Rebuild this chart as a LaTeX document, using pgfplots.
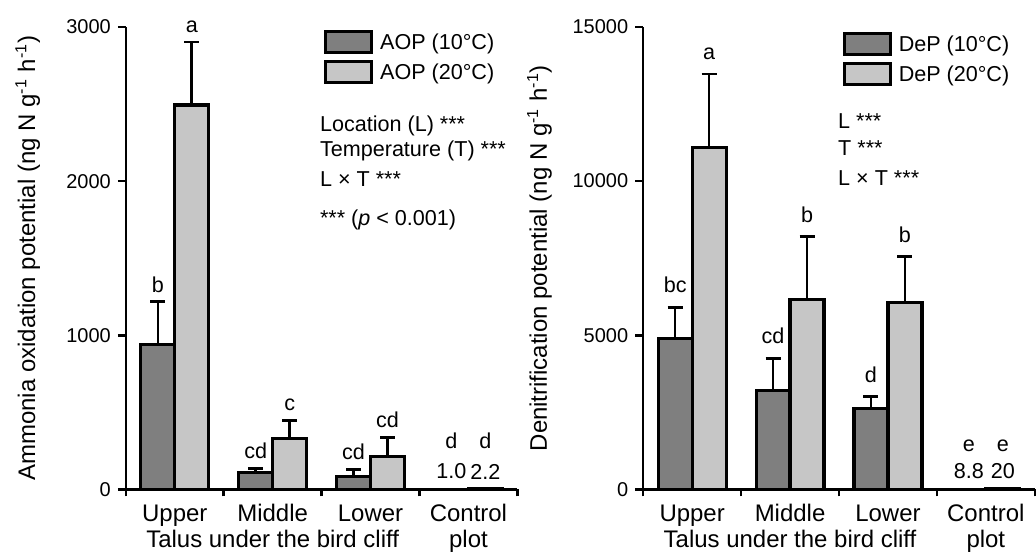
\documentclass[border=0pt]{standalone}
\usepackage{fontspec}
\setmainfont{Liberation Sans}
\usepackage{pgfplots}
\usepackage{pgfplotstable}
\pgfplotsset{compat=1.18}

\definecolor{darkbar}{HTML}{7F7F7F}
\definecolor{lightbar}{HTML}{C6C6C6}

\newcommand\ticksz{\fontsize{10}{12}\selectfont}
\newcommand\labsz{\fontsize{12}{14.4}\selectfont}
\newcommand\annsz{\fontsize{10.8}{13}\selectfont}

% x: bar centre (category -/+ half a bar), y: mean, e: +error,
% ly: height of the letter, lab: letter
\pgfplotstableread{
x       y    e   ly   lab
-0.1735 940  278 1218 b
0.8265  110  26  136  cd
1.8265  84   46  130  cd
2.8265  1.0  0   201  d
}\aopten
\pgfplotstableread{
x       y    e   ly   lab
0.1735  2494 409 2903 a
1.1735  330  117 447  c
2.1735  214  123 337  cd
3.1735  2.2  0   201  d
}\aoptwenty
\pgfplotstableread{
x      y   lab
2.8265 0   1.0
3.1735 0   2.2
}\aopctl

\pgfplotstableread{
x       y     e    ly    lab
-0.1735 4890  1010 5900  bc
0.8265  3210  1035 4245  cd
1.8265  2620  390  3010  d
2.8265  8.8   0    745   e
}\depten
\pgfplotstableread{
x       y     e    ly    lab
0.1735  11080 2400 13480 a
1.1735  6160  2040 8200  b
2.1735  6060  1490 7550  b
3.1735  20    0    745   e
}\deptwenty
\pgfplotstableread{
x      y   lab
2.8265 0   8.8
3.1735 0   20
}\depctl

\pgfplotsset{
  panel/.style={
    scale only axis, width=196pt, height=231.5pt,
    xmin=-0.5, xmax=3.5, ymin=0,
    axis x line=bottom, axis y line=left,
    axis line style={-, line width=1.25pt, black},
    tick align=outside,
    major tick length=4pt,
    minor tick length=3.5pt,
    xtick={0,1,2,3},
    xticklabels={Upper,Middle,Lower,Control},
    major x tick style={draw=none},
    minor xtick={-0.5,0.5,1.5,2.5,3.5},
    minor x tick style={line width=1.25pt, black},
    y tick style={line width=1.25pt, black},
    xticklabel style={font=\labsz, anchor=base, yshift=-12pt},
    yticklabel style={font=\ticksz},
    /pgf/number format/1000 sep={},
    /pgf/number format/assume math mode=true,
    scaled y ticks=false,
    clip=false,
    ylabel style={font=\labsz, anchor=base},
    xlabel style={font=\labsz, at={(axis description cs:0.375,0)}, anchor=base, yshift=-29pt},
    xlabel={Talus under the bird cliff},
    legend style={draw=none, fill=none, inner sep=0pt, outer sep=0pt,
      anchor=north west, font=\annsz, row sep=3.2pt,
      nodes={inner sep=0pt, anchor=base}},
    legend cell align=left,
  },
  bars/.style={ybar, bar width=17pt, bar shift=0pt, draw=black, /tikz/line width=1.6pt,
    error bars/.cd, y dir=plus, y explicit, error mark=|,
    error bar style={/tikz/line width=1.3pt, draw=black},
    error mark options={/tikz/line width=1.3pt, mark size=3.75pt, draw=black},
    /pgfplots/.cd},
  letters/.style={forget plot, draw=none, mark=none, nodes near coords,
    point meta=explicit symbolic,
    nodes near coords style={anchor=south, inner sep=0pt, font=\annsz, black}},
  darkimg/.style={legend image code/.code={\draw[fill=darkbar, line width=1.5pt] (0pt,-1.5pt) rectangle (23pt,9pt);\path (26.5pt,0pt);}},
  lightimg/.style={legend image code/.code={\draw[fill=lightbar, line width=1.5pt] (0pt,-1.5pt) rectangle (23pt,9pt);\path (26.5pt,0pt);}},
}

\begin{document}
\begin{tikzpicture}
\begin{axis}[panel, ymax=3000, ytick={0,1000,2000,3000},
  ylabel={Ammonia oxidation potential (ng N g\textsuperscript{-1} h\textsuperscript{-1})},
  ylabel style={at={(axis description cs:-0.232,0.5)}},
  legend style={at={(0.5064,0.9935)}}]
\addplot[bars, fill=darkbar, darkimg] table[x=x, y=y, y error=e] {\aopten};
\addlegendentry{AOP (10°C)}
\addplot[bars, fill=lightbar, lightimg] table[x=x, y=y, y error=e] {\aoptwenty};
\addlegendentry{AOP (20°C)}
\addplot[letters, nodes near coords style={yshift=4.5pt}] table[x=x, y=ly, meta=lab] {\aopten};
\addplot[letters, nodes near coords style={yshift=4.5pt}] table[x=x, y=ly, meta=lab] {\aoptwenty};
\addplot[letters, nodes near coords style={yshift=5pt}] table[x=x, y=y, meta=lab] {\aopctl};
\node[font=\labsz, anchor=base, yshift=-29pt] at (axis description cs:0.875,0) {plot};
\node[font=\annsz, anchor=base west, inner sep=0pt] at (axis description cs:0.495,0.775) {Location (L) ***};
\node[font=\annsz, anchor=base west, inner sep=0pt] at (axis description cs:0.495,0.719) {Temperature (T) ***};
\node[font=\annsz, anchor=base west, inner sep=0pt] at (axis description cs:0.495,0.654) {L × T ***};
\node[font=\annsz, anchor=base west, inner sep=0pt] at (axis description cs:0.495,0.570) {*** (\textit{p} < 0.001)};
\end{axis}

\begin{axis}[panel, at={(259pt,0pt)}, ymax=15000, ytick={0,5000,10000,15000},
  ylabel={Denitrification potential (ng N g\textsuperscript{-1} h\textsuperscript{-1})},
  ylabel style={at={(axis description cs:-0.246,0.5)}},
  legend style={at={(0.5095,0.989)}}]
\addplot[bars, fill=darkbar, darkimg] table[x=x, y=y, y error=e] {\depten};
\addlegendentry{DeP (10°C)}
\addplot[bars, fill=lightbar, lightimg] table[x=x, y=y, y error=e] {\deptwenty};
\addlegendentry{DeP (20°C)}
\addplot[letters, nodes near coords style={yshift=7pt}] table[x=x, y=ly, meta=lab] {\depten};
\addplot[letters, nodes near coords style={yshift=7pt}] table[x=x, y=ly, meta=lab] {\deptwenty};
\addplot[letters, nodes near coords style={yshift=5pt}] table[x=x, y=y, meta=lab] {\depctl};
\node[font=\labsz, anchor=base, yshift=-29pt] at (axis description cs:0.875,0) {plot};
\node[font=\annsz, anchor=base west, inner sep=0pt] at (axis description cs:0.497,0.780) {L ***};
\node[font=\annsz, anchor=base west, inner sep=0pt] at (axis description cs:0.497,0.721) {T ***};
\node[font=\annsz, anchor=base west, inner sep=0pt] at (axis description cs:0.497,0.657) {L × T ***};
\end{axis}
\path[use as bounding box] (-63pt,-30.5pt) rectangle (455pt,245pt);
\end{tikzpicture}
\end{document}
